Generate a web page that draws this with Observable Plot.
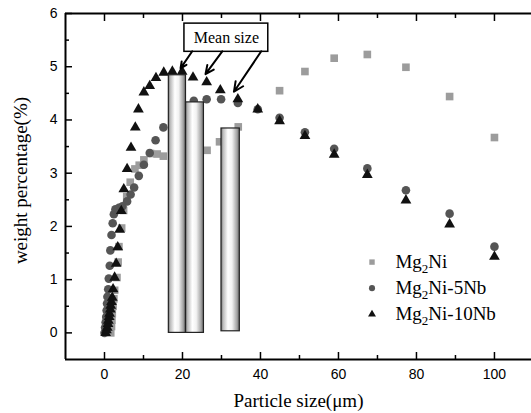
<!DOCTYPE html>
<html><head><meta charset="utf-8">
<script src="https://cdn.jsdelivr.net/npm/d3@7"></script>
<script src="https://cdn.jsdelivr.net/npm/@observablehq/plot@0.6"></script>
<style>body{margin:0;background:#fff}</style>
</head><body><div id="chart"></div>
<script>
// Mg2Ni (squares)
const mg2niX = [1.6,1.8,1.9,2.0,2.2,2.4,2.6,3.2,3.5,3.7,4.4,4.9,5.7,6.6,7.8,8.9,10.1,11.8,13.5,15.1,26.3,29.5,34.3,44.9,51.4,58.9,67.4,77.3,88.5,100];
const mg2niY = [0,0.12,0.24,0.36,0.5,0.64,0.8,1.04,1.33,1.62,1.97,2.3,2.56,2.83,3.08,3.15,3.25,3.37,3.36,3.32,3.43,3.59,3.87,4.55,4.91,5.16,5.23,4.99,4.44,3.67];
// Mg2Ni-5Nb (circles)
const nb5X = [0,0.15,0.3,0.45,0.55,0.65,0.75,0.95,1.1,1.35,1.5,1.8,2.1,2.4,2.8,3.7,4.6,5.8,6.7,7.6,8.8,10.1,11.6,13.1,15.1,22.9,26.2,29.9,34.2,39.3,44.9,51.4,58.9,67.4,77.3,88.5,100];
const nb5Y = [0,0.1,0.2,0.3,0.42,0.55,0.68,0.82,1.02,1.26,1.55,1.84,2.06,2.23,2.32,2.35,2.38,2.47,2.6,2.73,2.95,3.16,3.38,3.62,3.86,4.36,4.39,4.39,4.32,4.2,4.04,3.77,3.46,3.09,2.68,2.24,1.62];
// Mg2Ni-10Nb (triangles)
const nb10X = [0.3,0.5,0.7,0.9,1.0,1.2,1.3,1.5,1.6,1.8,2.0,2.2,2.6,3.0,3.4,3.9,4.3,4.95,5.8,6.8,7.9,8.7,10.1,11.6,13.2,15.2,17.4,19.9,22.7,26.2,29.7,34.2,39.3,44.9,51.4,58.9,67.4,77.3,88.5,100];
const nb10Y = [0,0.05,0.1,0.17,0.23,0.3,0.36,0.44,0.51,0.58,0.66,0.82,1.04,1.3,1.61,1.94,2.29,2.7,3.08,3.48,3.86,4.2,4.52,4.64,4.79,4.89,4.91,4.91,4.8,4.71,4.56,4.39,4.2,3.98,3.7,3.35,2.97,2.49,2.04,1.43];
// Mean size bars
const barX1 = [16.5, 20.9, 30.0];
const barX2 = [20.9, 25.5, 34.7];
const barBase = [0, 0, 0.03];
const barTop = [4.84, 4.33, 3.84];
// arrows from "Mean size" box
const arrowX1 = [22.5, 30.2, 40.2];
const arrowY1 = [5.29, 5.29, 5.29];
const arrowX2 = [19.5, 25.9, 33.2];
const arrowY2 = [4.97, 4.86, 4.53];
const meanLabel = ["Mean size"];
// legend
const seriesNames = ["Mg2Ni", "Mg2Ni-5Nb", "Mg2Ni-10Nb"];
// ticks
const xTickLabels = [0, 20, 40, 60, 80, 100];
const xMinorTicks = [10, 30, 50, 70, 90];
const yTickLabels = [0, 1, 2, 3, 4, 5, 6];
const yMinorTicks = [0.5, 1.5, 2.5, 3.5, 4.5, 5.5];

const toPts = (xs, ys) => xs.map((x, i) => ({x, y: ys[i]}));
const sq = toPts(mg2niX, mg2niY);
const ci = toPts(nb5X, nb5Y);
const tr = toPts(nb10X, nb10Y);
const bars = barX1.map((x1, i) => ({x1, x2: barX2[i], y1: barBase[i], y2: barTop[i]}));
const arrows = arrowX1.map((x1, i) => ({x1, y1: arrowY1[i], x2: arrowX2[i], y2: arrowY2[i]}));
const legendSymbols = ["square", "circle", "triangle"];
const legendColors = ["#9c9c9c", "#555555", "#111111"];
const legendR = [4.3, 4.3, 4.0];
const legend = seriesNames.map((name, i) => ({name, sym: legendSymbols[i], color: legendColors[i], r: legendR[i], x: 68.6, y: 1.33 - i * 0.49}));

const serif = "'Liberation Serif', 'Times New Roman', serif";
const sans = "'Liberation Sans', Arial, sans-serif";
const intFmt = d3.format("d");
const blank = () => "";

const svg = Plot.plot({
  width: 531, height: 413,
  marginLeft: 65, marginRight: 0, marginTop: 13, marginBottom: 54,
  style: {background: "#fff", fontFamily: sans, fontSize: "14px", color: "#000"},
  x: {domain: [-10, 109.5], axis: null},
  y: {domain: [-0.5, 6], axis: null},
  marks: [
    // tick labels
    Plot.axisX({ticks: xTickLabels, tickSize: 0, tickPadding: 10, tickFormat: intFmt, fontSize: 14, fontFamily: sans, label: null}),
    Plot.axisY({ticks: yTickLabels, tickSize: 0, tickPadding: 8, tickFormat: intFmt, fontSize: 14, fontFamily: sans, label: null}),
    // inward ticks (major and minor)
    Plot.axisX({anchor: "bottom", ticks: xTickLabels, tickSize: -7, tickFormat: blank, label: null, strokeWidth: 1.5}),
    Plot.axisX({anchor: "bottom", ticks: xMinorTicks, tickSize: -4, tickFormat: blank, label: null, strokeWidth: 1.5}),
    Plot.axisX({anchor: "top", ticks: xTickLabels, tickSize: -7, tickFormat: blank, label: null, strokeWidth: 1.5}),
    Plot.axisX({anchor: "top", ticks: xMinorTicks, tickSize: -4, tickFormat: blank, label: null, strokeWidth: 1.5}),
    Plot.axisY({anchor: "left", ticks: yTickLabels, tickSize: -7, tickFormat: blank, label: null, strokeWidth: 1.5}),
    Plot.axisY({anchor: "left", ticks: yMinorTicks, tickSize: -4, tickFormat: blank, label: null, strokeWidth: 1.5}),
    // frame lines
    Plot.ruleY([-0.5, 6], {stroke: "#000", strokeWidth: 2}),
    Plot.ruleX([-10], {stroke: "#000", strokeWidth: 2}),
    // data
    Plot.dot(sq, {x: "x", y: "y", symbol: "square", r: 4.3, fill: "#9c9c9c"}),
    Plot.dot(ci, {x: "x", y: "y", symbol: "circle", r: 4.3, fill: "#555555"}),
    Plot.dot(tr, {x: "x", y: "y", symbol: "triangle", r: 4.0, fill: "#111111"}),
    Plot.rect(bars, {x1: "x1", x2: "x2", y1: "y1", y2: "y2", fill: "url(#barGrad)", stroke: "#222", strokeWidth: 1.2}),
    // annotation
    Plot.rect(meanLabel, {x1: 20.5, x2: 42, y1: 5.28, y2: 5.81, fill: "#fff", stroke: "#000", strokeWidth: 1.5}),
    Plot.text(meanLabel, {x: 31.25, y: 5.545, text: d => d, fontFamily: serif, fontSize: 16, fill: "#000"}),
    Plot.arrow(arrows, {x1: "x1", y1: "y1", x2: "x2", y2: "y2", stroke: "#000", strokeWidth: 2, headLength: 8, headAngle: 50}),
    // legend
    Plot.dot(legend, {x: "x", y: "y", symbol: "sym", fill: "color", r: "r"}),
    Plot.text(legend, {x: d => d.x + 6, y: "y", text: "name", textAnchor: "start", fontFamily: serif, fontSize: 19, fill: "#000", className: "legend-label"}),
    // axis titles
    Plot.text(["Particle size(\u03bcm)"], {frameAnchor: "bottom", dy: 41, lineAnchor: "middle", textAnchor: "middle", text: d => d, fontFamily: serif, fontSize: 19, fill: "#000"}),
    Plot.text(["weight percentage(%)"], {frameAnchor: "left", dx: -45, dy: -6, rotate: -90, textAnchor: "middle", lineAnchor: "middle", text: d => d, fontFamily: serif, fontSize: 19, fill: "#000"})
  ]
});
svg.setAttribute("style", (svg.getAttribute("style") || "") + ";overflow:visible;background:#fff");
const grad = d3.select(svg).insert("defs", ":first-child")
  .append("linearGradient").attr("id", "barGrad").attr("x1", "0").attr("x2", "1").attr("y1", "0").attr("y2", "0");
[[0, "#707070"], [0.12, "#bcbcbc"], [0.38, "#ffffff"], [0.6, "#f2f2f2"], [0.85, "#a9a9a9"], [1, "#6e6e6e"]]
  .forEach(([o, c]) => grad.append("stop").attr("offset", o).attr("stop-color", c));
// subscripts in legend labels
d3.select(svg).selectAll(".legend-label text").each(function() {
  const t = this.textContent;
  const m = t.match(/^Mg2(.*)$/);
  if (!m) return;
  const el = d3.select(this);
  el.text("");
  el.append("tspan").text("Mg");
  el.append("tspan").attr("dy", 5).attr("font-size", 13).text("2");
  el.append("tspan").attr("dy", -5).text(m[1]);
});
document.getElementById("chart").appendChild(svg);
</script>
</body></html>
